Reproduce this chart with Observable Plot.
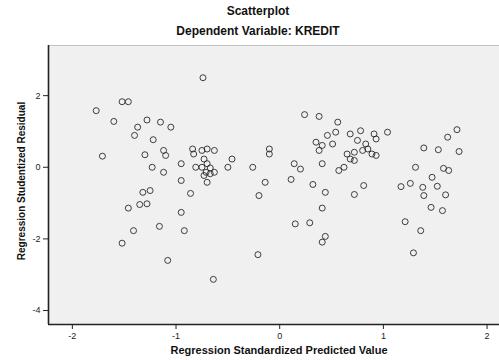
<!DOCTYPE html>
<html>
<head>
<meta charset="utf-8">
<script src="https://cdn.jsdelivr.net/npm/d3@7"></script>
<script src="https://cdn.jsdelivr.net/npm/@observablehq/plot@0.6"></script>
<style>
  html, body { margin: 0; padding: 0; background: #ffffff; }
  #wrap { position: relative; width: 499px; height: 360px; font-family: "Liberation Sans", Arial, sans-serif; }
  .ttl { position: absolute; left: 0; width: 516px; text-align: center; font-weight: bold; font-size: 12px; color: #111; }
  #chart { position: absolute; left: 0; top: 0; }
</style>
</head>
<body>
<div id="wrap">
  <div class="ttl" style="top:4px;">Scatterplot</div>
  <div class="ttl" style="top:24px;">Dependent Variable: KREDIT</div>
  <div id="chart"></div>
</div>
<script>
const predicted = [
  -1.77, -1.52, -1.46, -1.60, -1.28, -1.15, -1.05, -1.37, -1.40, -1.22,
  -1.71, -1.30, -1.12, -1.10, -1.23, -1.12, -0.95, -1.32, -1.25, -1.46,
  -1.35, -1.28, -1.41, -1.16, -1.52, -1.08, -0.74, -0.95, -0.92, -0.95,
  -0.86, -0.64, -0.84, -0.83, -0.75, -0.70, -0.63, -0.73, -0.81, -0.75,
  -0.70, -0.67, -0.63, -0.71, -0.73, -0.67, -0.70, -0.46, -0.50, -0.26,
  -0.10, -0.10, -0.14, -0.20, -0.21, 0.24, 0.38, 0.56, 0.54, 0.46,
  0.68, 0.78, 0.91, 1.04, 0.35, 0.41, 0.51, 0.38, 0.75, 0.83,
  0.93, 0.65, 0.72, 0.80, 0.85, 0.68, 0.72, 0.89, 0.93, 0.14,
  0.20, 0.41, 0.57, 0.62, 0.11, 0.32, 0.44, 0.81, 0.72, 0.41,
  0.15, 0.29, 0.44, 0.41, 1.71, 1.62, 1.39, 1.53, 1.73, 1.31,
  1.58, 1.63, 1.47, 1.17, 1.26, 1.38, 1.39, 1.52, 1.60, 1.46,
  1.57, 1.21, 1.36, 1.29
];
const residual = [
  1.58, 1.83, 1.83, 1.28, 1.32, 1.26, 1.12, 1.12, 0.89, 0.77,
  0.31, 0.35, 0.47, 0.33, 0.00, -0.14, 0.10, -0.70, -0.65, -1.14,
  -1.04, -1.02, -1.77, -1.65, -2.12, -2.60, 2.50, -1.26, -1.77, -0.37,
  -0.73, -3.13, 0.51, 0.37, 0.47, 0.51, 0.47, 0.23, 0.00, 0.00,
  0.10, -0.02, -0.14, -0.14, -0.23, -0.18, -0.42, 0.23, 0.00, 0.00,
  0.51, 0.37, -0.42, -0.79, -2.44, 1.47, 1.42, 1.26, 0.98, 0.89,
  0.93, 1.02, 0.93, 0.98, 0.70, 0.61, 0.65, 0.47, 0.75, 0.65,
  0.79, 0.37, 0.42, 0.47, 0.51, 0.23, 0.19, 0.37, 0.33, 0.10,
  -0.05, 0.10, -0.09, 0.00, -0.34, -0.48, -0.70, -0.51, -0.76, -1.14,
  -1.58, -1.55, -1.93, -2.09, 1.05, 0.84, 0.54, 0.49, 0.44, 0.00,
  -0.03, -0.09, -0.28, -0.54, -0.45, -0.56, -0.79, -0.53, -0.77, -1.12,
  -1.21, -1.52, -1.77, -2.39
];
const xTicks = [-2, -1, 0, 1, 2];
const yTicks = [2, 0, -2, -4];
const xLabel = "Regression Standardized Predicted Value";
const yLabel = "Regression Studentized Residual";

const points = predicted.map((x, i) => ({x, y: residual[i]}));
const xDomain = [-2.23, 2.12];
const yDomain = [-4.39, 3.4];

const chart = Plot.plot({
  width: 499,
  height: 360,
  marginTop: 45,
  marginBottom: 36,
  marginLeft: 48,
  marginRight: 0,
  style: { fontFamily: "'Liberation Sans', Arial, sans-serif", fontSize: "9px", color: "#222", background: "transparent", overflow: "visible" },
  x: { domain: xDomain, ticks: xTicks, tickFormat: d => String(d), label: null },
  y: { domain: yDomain, ticks: yTicks, tickFormat: d => String(d), label: null },
  marks: [
    Plot.frame({ fill: "#f0f0f0", stroke: "#c4c4c4" }),
    Plot.ruleX([xDomain[0]], { stroke: "#222", strokeWidth: 1.6 }),
    Plot.ruleY([yDomain[0]], { stroke: "#222", strokeWidth: 1.6 }),
    Plot.axisX({ ticks: xTicks, tickFormat: d => String(d), tickSize: 5, tickPadding: 3, stroke: "#222", label: null }),
    Plot.axisY({ ticks: yTicks, tickFormat: d => String(d), tickSize: 5, tickPadding: 3, stroke: "#222", label: null }),
    Plot.text([xLabel], { frameAnchor: "bottom", dx: 5, dy: 29, fontSize: 11, fontWeight: "bold", fill: "#111" }),
    Plot.text([yLabel], { frameAnchor: "left", textAnchor: "middle", dx: -27, dy: -4, rotate: -90, fontSize: 10, fontWeight: "bold", fill: "#111" }),
    Plot.dot(points, { x: "x", y: "y", r: 3, stroke: "#2a2a2a", strokeWidth: 0.9, fill: "none" })
  ]
});
document.getElementById("chart").appendChild(chart);
</script>
</body>
</html>
